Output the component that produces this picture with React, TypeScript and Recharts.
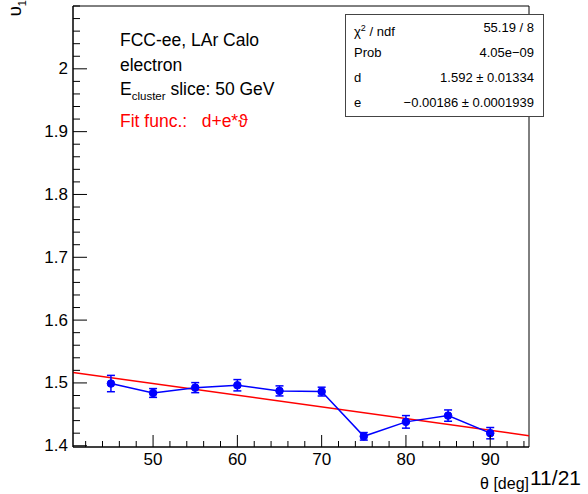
import React from "react";
import { ComposedChart, Line, XAxis, YAxis, ErrorBar, ReferenceArea } from "recharts";

// graph points
const theta = [45, 50, 55, 60, 65, 70, 75, 80, 85, 90];
const v1 = [1.499, 1.484, 1.4925, 1.4963, 1.4873, 1.4862, 1.415, 1.438, 1.448, 1.42];
const v1Err = [0.013, 0.007, 0.008, 0.009, 0.008, 0.007, 0.006, 0.01, 0.009, 0.009];

// fitted line d+e*theta, end points
const fitTheta = [40.5, 94.6];
const fitV1 = [1.5167, 1.416];

const xDomain: [number, number] = [40.5, 94.6];
const yDomain: [number, number] = [1.398, 2.1];
const xMinorTicks = [42, 44, 46, 48, 50, 52, 54, 56, 58, 60, 62, 64, 66, 68, 70, 72, 74, 76, 78, 80, 82, 84, 86, 88, 90, 92, 94];
const xMajorTicks = [50, 60, 70, 80, 90];
const yTicks = [
  1.4, 1.42, 1.44, 1.46, 1.48, 1.5, 1.52, 1.54, 1.56, 1.58, 1.6, 1.62, 1.64, 1.66, 1.68, 1.7, 1.72, 1.74,
  1.76, 1.78, 1.8, 1.82, 1.84, 1.86, 1.88, 1.9, 1.92, 1.94, 1.96, 1.98, 2.0, 2.02, 2.04, 2.06, 2.08, 2.1,
];
const yMajorTicks = [1.4, 1.5, 1.6, 1.7, 1.8, 1.9, 2.0];

const statsLabels = ["χ2 / ndf", "Prob", "d", "e"];
const statsValues = ["55.19 / 8", "4.05e−09", "1.592 ± 0.01334", "−0.00186 ± 0.0001939"];

const points = theta.map((t, i) => ({ x: t, y: v1[i], err: v1Err[i] }));
const fitData = fitTheta.map((t, i) => ({ x: t, y: fitV1[i] }));

const FONT = "'Liberation Sans', Arial, Helvetica, sans-serif";

const XTick = (props: any) => {
  const { x, y, payload } = props;
  const major = xMajorTicks.includes(payload.value);
  return (
    <g>
      <line x1={x} x2={x} y1={y} y2={y - (major ? 12 : 6)} stroke="#000" strokeWidth={1} />
      {major && (
        <text x={x} y={y + 12} textAnchor="middle" dominantBaseline="central" fontSize={17} fontFamily={FONT} fill="#000">
          {payload.value}
        </text>
      )}
    </g>
  );
};

const YTick = (props: any) => {
  const { x, y, payload } = props;
  const v = payload.value;
  const major = yMajorTicks.some((m) => Math.abs(m - v) < 1e-6);
  return (
    <g>
      <line x1={x} x2={x + (major ? 14 : 7)} y1={y} y2={y} stroke="#000" strokeWidth={1} />
      {major && (
        <text x={x - 5} y={y} textAnchor="end" dominantBaseline="central" fontSize={17} fontFamily={FONT} fill="#000">
          {Number(v.toFixed(1)).toString()}
        </text>
      )}
    </g>
  );
};

export default function App() {
  return (
    <div style={{ position: "absolute", left: 0, top: 0, width: 588, height: 494, background: "#fff", fontFamily: FONT }}>
      <ComposedChart width={588} height={494} data={points} margin={{ top: 6, right: 59, bottom: 7, left: 13 }}>
        <XAxis
          type="number"
          dataKey="x"
          domain={xDomain}
          ticks={xMinorTicks}
          interval={0}
          allowDataOverflow
          height={40}
          tickSize={0}
          tickMargin={0}
          tickLine={false}
          axisLine={{ stroke: "#000" }}
          tick={<XTick />}
        />
        <YAxis
          type="number"
          domain={yDomain}
          ticks={yTicks}
          interval={0}
          allowDataOverflow
          width={60}
          tickSize={0}
          tickMargin={0}
          tickLine={false}
          axisLine={{ stroke: "#000" }}
          tick={<YTick />}
        />
        <ReferenceArea x1={xDomain[0]} x2={xDomain[1]} y1={yDomain[0]} y2={yDomain[1]} fill="none" stroke="#000" strokeWidth={1} />
        <Line
          data={fitData}
          dataKey="y"
          stroke="#ff0000"
          strokeWidth={1.5}
          dot={false}
          isAnimationActive={false}
          type="linear"
        />
        <Line
          dataKey="y"
          stroke="#0000ff"
          strokeWidth={1.5}
          type="linear"
          dot={{ r: 3.8, fill: "#0000ff", stroke: "#0000ff", strokeWidth: 1 }}
          isAnimationActive={false}
        >
          <ErrorBar dataKey="err" direction="y" width={4} stroke="#0000ff" strokeWidth={1.5} />
        </Line>
      </ComposedChart>

      {/* y axis title */}
      <div
        style={{
          position: "absolute",
          left: 2,
          top: 3,
          width: 26,
          height: 20,
          fontSize: 19,
          lineHeight: "20px",
          transform: "rotate(-90deg)",
          textAlign: "right",
        }}
      >
        υ<sub style={{ fontSize: 11 }}>1</sub>
      </div>

      {/* x axis title */}
      <div style={{ position: "absolute", right: 588 - 529, top: 474, fontSize: 16, lineHeight: "20px", whiteSpace: "nowrap" }}>
        θ [deg]
      </div>
      <div style={{ position: "absolute", left: 530, top: 465, fontSize: 21, lineHeight: "26px", whiteSpace: "nowrap" }}>
        11/21
      </div>

      {/* info text */}
      <div style={{ position: "absolute", left: 120, top: 28, fontSize: 17.5, lineHeight: "24.7px", whiteSpace: "nowrap", color: "#000" }}>
        <div>FCC-ee, LAr Calo</div>
        <div>electron</div>
        <div>
          E<sub style={{ fontSize: 11.5, verticalAlign: "-5px" }}>cluster</sub> slice: 50 GeV
        </div>
        <div style={{ color: "#ff0000" }}>
          Fit func.:&nbsp;&nbsp;&nbsp;d+e*ϑ
        </div>
      </div>

      {/* stats box */}
      <div
        style={{
          position: "absolute",
          left: 345,
          top: 14,
          width: 199,
          height: 103,
          boxSizing: "border-box",
          border: "1px solid #444",
          background: "#fff",
          fontSize: 13,
        }}
      >
        {statsLabels.map((lab, i) => (
          <div
            key={lab}
            style={{
              position: "absolute",
              left: 8,
              right: 9,
              top: (101 * (2 * i + 1)) / 8 - 8,
              height: 16,
              lineHeight: "16px",
              display: "flex",
              justifyContent: "space-between",
              whiteSpace: "nowrap",
            }}
          >
            <span>
              {i === 0 ? (
                <>
                  χ<sup style={{ fontSize: 9, verticalAlign: "5px" }}>2</sup> / ndf
                </>
              ) : (
                lab
              )}
            </span>
            <span>{statsValues[i]}</span>
          </div>
        ))}
      </div>
    </div>
  );
}
